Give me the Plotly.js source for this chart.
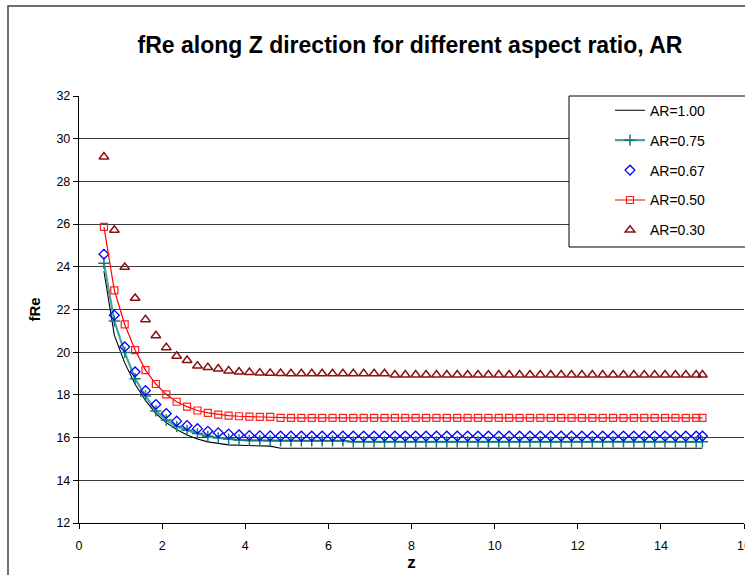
<!DOCTYPE html>
<html>
<head>
<meta charset="utf-8">
<script src="https://cdn.plot.ly/plotly-3.0.1.min.js"></script>
<style>
  html, body { margin: 0; padding: 0; overflow: hidden; background: #fff; }
  #chart { width: 760px; height: 575px; }
</style>
</head>
<body>
<div id="chart"></div>
<script>
// Axial position z
const zPos = [0.6, 0.85, 1.1, 1.35, 1.6, 1.85, 2.1, 2.35, 2.6, 2.85, 3.1, 3.35, 3.6, 3.85, 4.1, 4.35, 4.6, 4.85,
  5.1, 5.35, 5.6, 5.85, 6.1, 6.35, 6.6, 6.85, 7.1, 7.35, 7.6, 7.85, 8.1, 8.35, 8.6, 8.85, 9.1, 9.35, 9.6, 9.85,
  10.1, 10.35, 10.6, 10.85, 11.1, 11.35, 11.6, 11.85, 12.1, 12.35, 12.6, 12.85, 13.1, 13.35, 13.6, 13.85,
  14.1, 14.35, 14.6, 14.85, 15];

// fRe for each aspect ratio
const fRe_AR100 = [23.8, 20.8, 19.5, 18.5, 17.74, 17.12, 16.7, 16.38, 16.12, 15.93, 15.8, 15.72, 15.66, 15.64, 15.62, 15.61, 15.6, 15.5,
  15.5, 15.5, 15.5, 15.5, 15.5, 15.5, 15.5, 15.5, 15.5, 15.5, 15.5, 15.5, 15.5, 15.5, 15.5, 15.5, 15.5, 15.5, 15.5, 15.5,
  15.5, 15.5, 15.5, 15.5, 15.5, 15.5, 15.5, 15.5, 15.5, 15.5, 15.5, 15.5, 15.5, 15.5, 15.5, 15.5,
  15.5, 15.5, 15.5, 15.5, 15.5];
const fRe_AR075 = [24.17, 21.46, 19.99, 18.76, 17.95, 17.25, 16.82, 16.52, 16.34, 16.19, 16.06, 15.99, 15.93, 15.89, 15.87, 15.86, 15.85, 15.85,
  15.85, 15.85, 15.85, 15.85, 15.85, 15.85, 15.8, 15.8, 15.8, 15.8, 15.8, 15.8, 15.8, 15.8, 15.8, 15.8, 15.8, 15.8, 15.8, 15.8,
  15.8, 15.8, 15.8, 15.8, 15.8, 15.8, 15.8, 15.8, 15.8, 15.8, 15.8, 15.8, 15.8, 15.8, 15.8, 15.8,
  15.8, 15.8, 15.8, 15.8, 15.8];
const fRe_AR067 = [24.59, 21.73, 20.25, 19.08, 18.2, 17.55, 17.13, 16.77, 16.57, 16.42, 16.3, 16.23, 16.17, 16.13, 16.1, 16.09, 16.08, 16.07,
  16.07, 16.07, 16.07, 16.07, 16.07, 16.07, 16.07, 16.07, 16.07, 16.07, 16.07, 16.07, 16.07, 16.07, 16.07, 16.07, 16.07, 16.07, 16.07, 16.07,
  16.07, 16.07, 16.07, 16.07, 16.07, 16.07, 16.07, 16.07, 16.07, 16.07, 16.07, 16.07, 16.07, 16.07, 16.07, 16.07,
  16.07, 16.07, 16.07, 16.07, 16.07];
const fRe_AR050 = [25.87, 22.9, 21.3, 20.1, 19.16, 18.51, 18.02, 17.68, 17.45, 17.27, 17.16, 17.08, 17.03, 17.0, 16.98, 16.97, 16.97, 16.92,
  16.92, 16.92, 16.92, 16.92, 16.92, 16.92, 16.92, 16.92, 16.92, 16.92, 16.92, 16.92, 16.92, 16.92, 16.92, 16.92, 16.92, 16.92, 16.92, 16.92,
  16.92, 16.92, 16.92, 16.92, 16.92, 16.92, 16.92, 16.92, 16.92, 16.92, 16.92, 16.92, 16.92, 16.92, 16.92, 16.92,
  16.92, 16.92, 16.92, 16.92, 16.92];
const fRe_AR030 = [29.15, 25.72, 23.98, 22.53, 21.53, 20.78, 20.22, 19.82, 19.62, 19.36, 19.29, 19.22, 19.13, 19.08, 19.06, 19.03, 19.02, 19.01,
  19.0, 19.0, 19.0, 19.0, 19.0, 19.0, 19.0, 19.0, 19.0, 19.0, 18.94, 18.94, 18.94, 18.94, 18.94, 18.94, 18.94, 18.94, 18.94, 18.94,
  18.94, 18.94, 18.94, 18.94, 18.94, 18.94, 18.94, 18.94, 18.94, 18.94, 18.94, 18.94, 18.94, 18.94, 18.94, 18.94,
  18.94, 18.94, 18.94, 18.94, 18.94];

const seriesNames = ['AR=1.00', 'AR=0.75', 'AR=0.67', 'AR=0.50', 'AR=0.30'];
const xTicks = [0, 2, 4, 6, 8, 10, 12, 14, 16];
const yTicks = [12, 14, 16, 18, 20, 22, 24, 26, 28, 30, 32];

const FONT = 'Arial, "Liberation Sans", sans-serif';

const traces = [
  {
    x: zPos, y: fRe_AR100, name: seriesNames[0], legendgroup: 'a',
    mode: 'lines', line: {color: '#000000', width: 1.1}
  },
  {
    x: zPos, y: fRe_AR075, name: seriesNames[1], legendgroup: 'b',
    mode: 'lines+markers', line: {color: '#4aa3a3', width: 2.2},
    marker: {symbol: 'cross-thin-open', size: 8, color: '#137a7a', line: {color: '#137a7a', width: 1.5}}
  },
  {
    x: zPos, y: fRe_AR067, name: seriesNames[2], legendgroup: 'c',
    mode: 'markers',
    marker: {symbol: 'diamond-open', size: 7.5, color: '#0000ff', line: {color: '#0000ff', width: 1.3}}
  },
  {
    x: zPos, y: fRe_AR050, name: seriesNames[3], legendgroup: 'd',
    mode: 'lines+markers', line: {color: '#ff0000', width: 1.2},
    marker: {symbol: 'square-open', size: 7, color: '#ff2020', line: {color: '#ff2020', width: 1.2}}
  },
  {
    x: zPos, y: fRe_AR030, name: seriesNames[4], legendgroup: 'e',
    mode: 'markers',
    marker: {symbol: 'triangle-up-open', size: 8.5, color: '#8b1010', line: {color: '#8b1010', width: 1.5}}
  }
];

// plot area: 79..744 px across, 96..523 px down
const layout = {
  width: 760, height: 575,
  margin: {l: 79, r: 16, t: 96, b: 52},
  paper_bgcolor: '#ffffff', plot_bgcolor: '#ffffff',
  font: {family: FONT, color: '#000000', size: 12},
  title: {
    text: '<b>fRe along Z direction for different aspect ratio, AR</b>',
    font: {family: FONT, size: 23, color: '#000000'},
    x: 0.4977, xref: 'paper', xanchor: 'center',
    y: 1 - 45 / 575, yref: 'container', yanchor: 'middle'
  },
  xaxis: {
    range: [0, 16], tickvals: xTicks, ticktext: xTicks.map(String),
    showgrid: false, zeroline: false,
    showline: true, linecolor: '#000000', linewidth: 1.2,
    ticks: 'outside', ticklen: 5, tickcolor: '#000000',
    ticklabelstandoff: 6,
    tickfont: {family: FONT, size: 12.5},
    title: {text: '<b>z</b>', font: {family: FONT, size: 17}, standoff: 3}
  },
  yaxis: {
    range: [12, 32], tickvals: yTicks, ticktext: yTicks.map(String),
    showgrid: true, gridcolor: '#3a3a3a', gridwidth: 1,
    zeroline: false,
    showline: true, linecolor: '#000000', linewidth: 1.2,
    ticks: 'outside', ticklen: 5, tickcolor: '#000000',
    tickfont: {family: FONT, size: 12.5},
    title: {text: '<b>fRe</b>', font: {family: FONT, size: 15}, standoff: 12}
  },
  showlegend: true,
  legend: {
    x: (610 - 79) / 665, xanchor: 'left',
    y: 1.003, yanchor: 'top',
    bgcolor: 'rgba(0,0,0,0)', borderwidth: 0,
    font: {family: FONT, size: 14, color: '#000000'},
    traceorder: 'grouped', tracegroupgap: 8.7
  },
  shapes: [
    // outer chart frame
    {type: 'rect', xref: 'paper', yref: 'paper',
     x0: (8 - 79) / 665, x1: 1.1, y0: -0.2, y1: (523 - 6) / 427,
     line: {color: '#404040', width: 1.5}, fillcolor: 'rgba(0,0,0,0)', layer: 'below'},
    // legend frame
    {type: 'rect', xref: 'paper', yref: 'paper',
     x0: (569 - 79) / 665, x1: 1.1, y0: (523 - 247) / 427, y1: 1,
     line: {color: '#000000', width: 1}, fillcolor: '#ffffff', layer: 'above'}
  ]
};

Plotly.newPlot('chart', traces, layout, {displayModeBar: false, staticPlot: true});
</script>
</body>
</html>
